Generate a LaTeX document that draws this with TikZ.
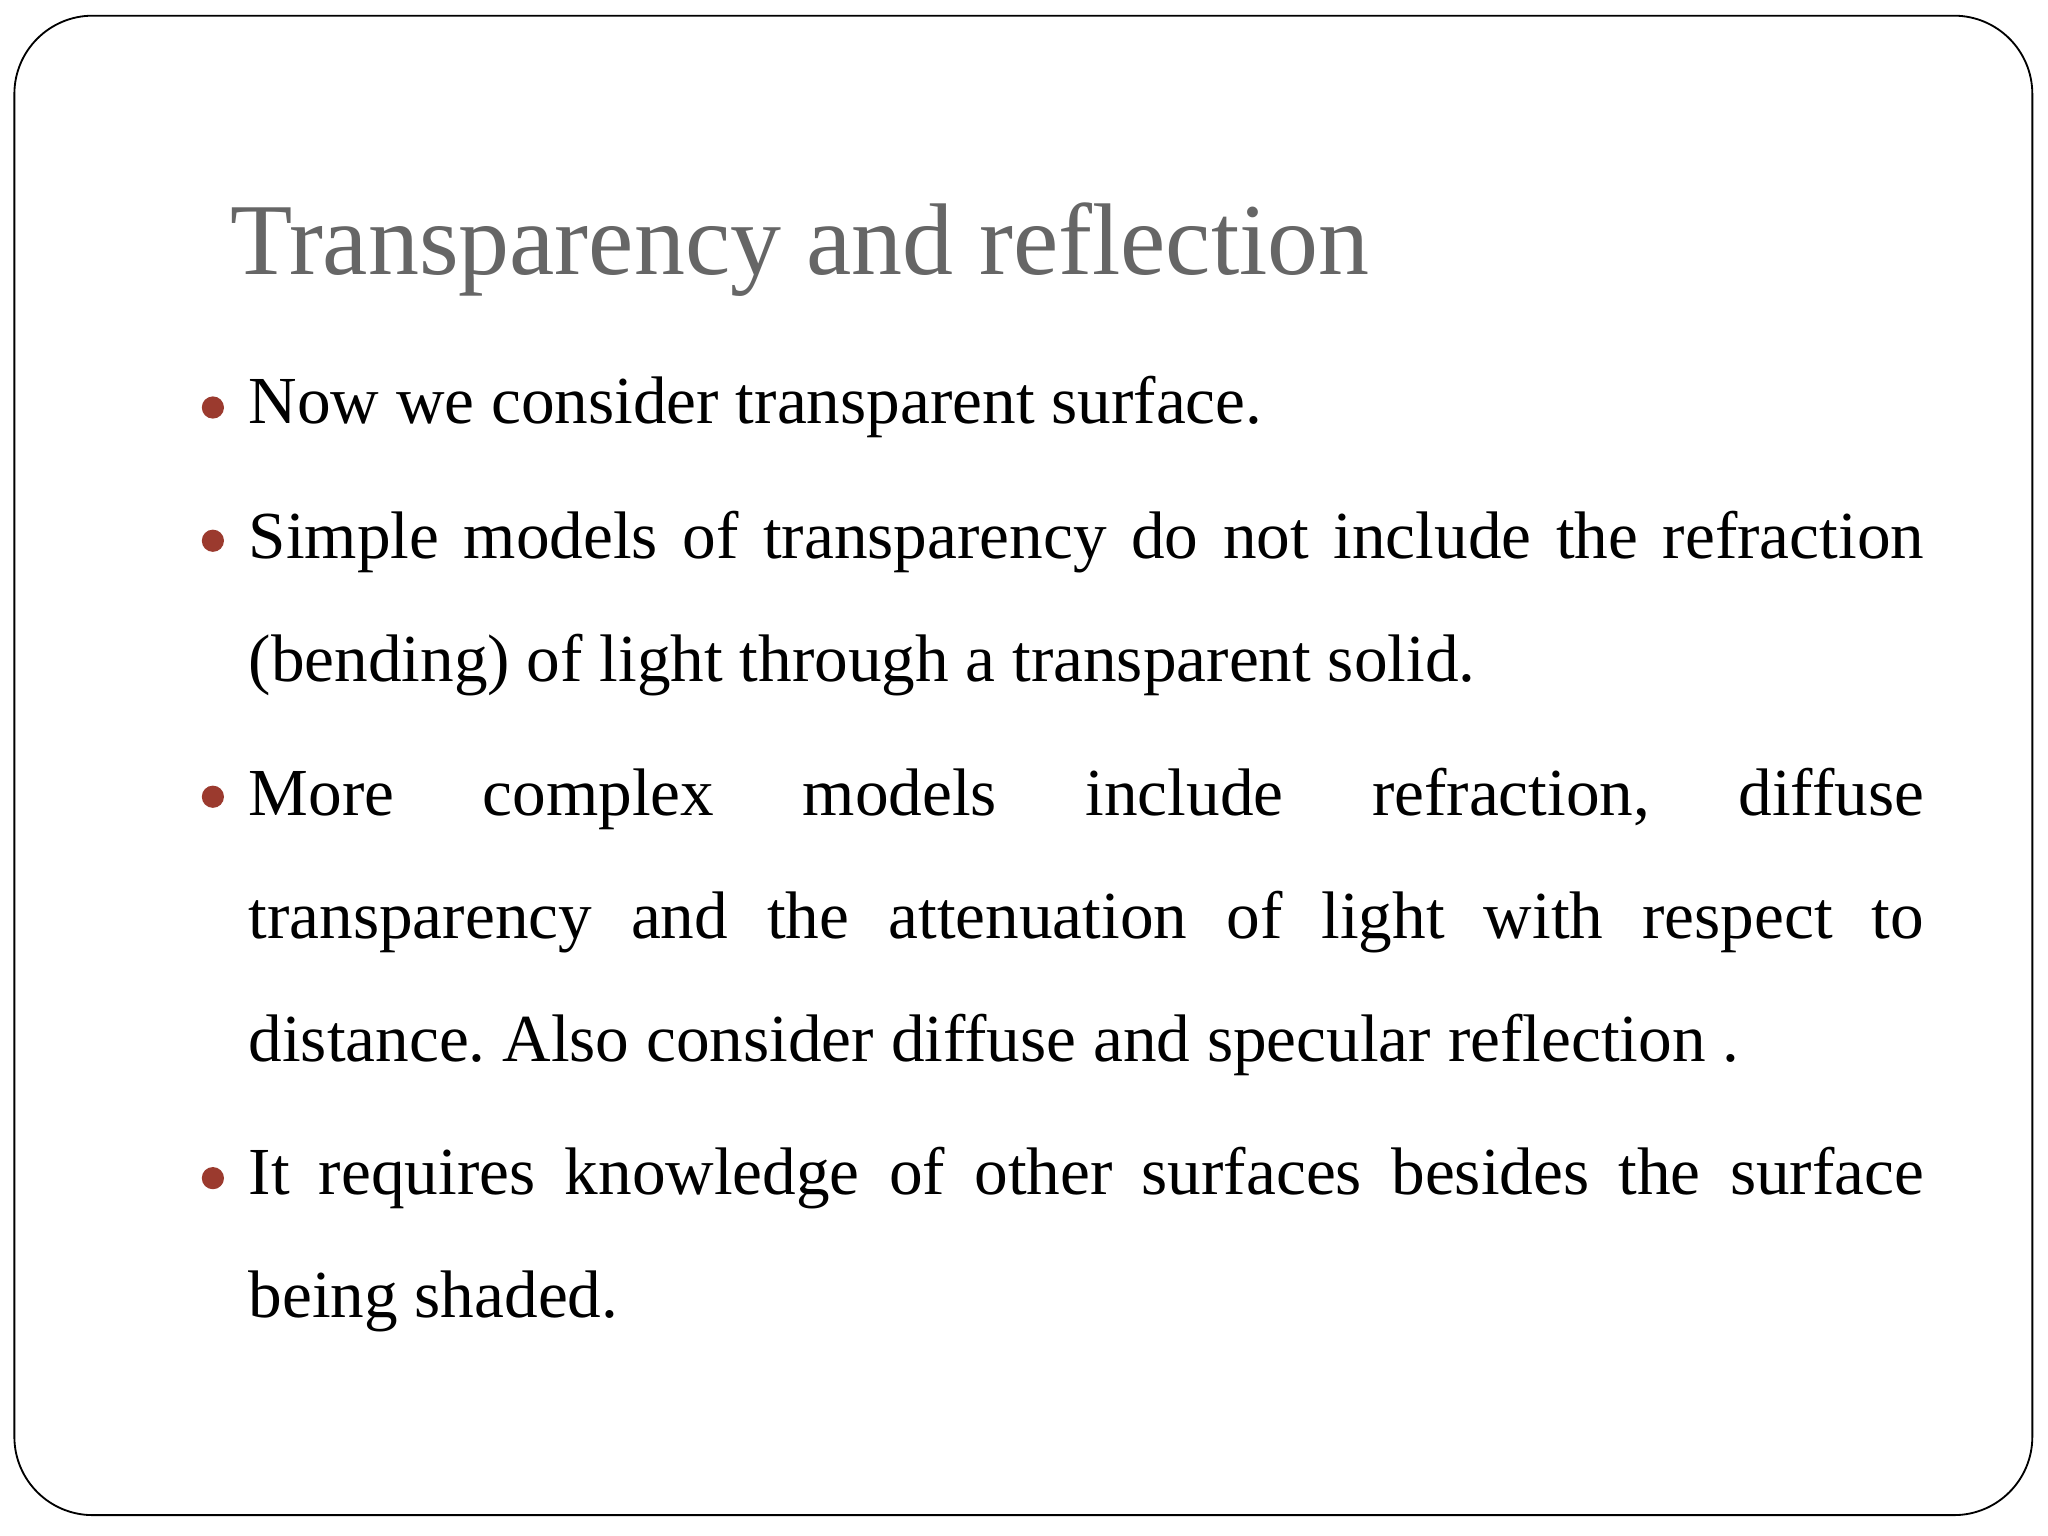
\documentclass[tikz,border=0pt]{standalone}
\usepackage{fontspec}
\setmainfont{Liberation Serif}
\definecolor{titlegray}{HTML}{666666}
\definecolor{bulletred}{HTML}{9B3A2E}
\newcommand{\nohyph}{\hyphenpenalty=10000\relax\exhyphenpenalty=10000\relax\frenchspacing}
\begin{document}
\begin{tikzpicture}[x=0.02cm,y=-0.02cm,
  para/.style={anchor=north west,inner sep=0pt,text width=25.66cm,align=justify,font=\fontsize{29.3}{53.5}\selectfont\nohyph},
  bul/.style={circle,fill=bulletred,inner sep=0pt,minimum size=0.34cm}]
\useasboundingbox (0,0) rectangle (1568,1176);
\fill[white] (0,0) rectangle (1568,1176);
\draw[line width=0.8pt,rounded corners=1.2cm] (11,12) rectangle (1556,1160);
\node[anchor=base west,inner sep=0pt,text=titlegray,font=\fontsize{44.4}{50}\selectfont] (title) at (176,210) {Transparency and reflection};
\node[para] (p1) at (190,288) {Now we consider transparent surface.};
\node[para] (p2) at (190,391) {Simple models of transparency do not include the refraction\linebreak (bending) of light through a transparent solid.};
\node[para] (p3) at (190,588) {More complex models include refraction, diffuse\linebreak transparency and the attenuation of light with respect to\linebreak distance. Also consider diffuse and specular reflection .};
\node[para] (p4) at (190,878) {It requires knowledge of other surfaces besides the surface\linebreak being shaded.};
\node[bul] (b1) at (163,312) {};
\node[bul] (b2) at (163,414) {};
\node[bul] (b3) at (163,610) {};
\node[bul] (b4) at (163,902) {};
\end{tikzpicture}
\end{document}
